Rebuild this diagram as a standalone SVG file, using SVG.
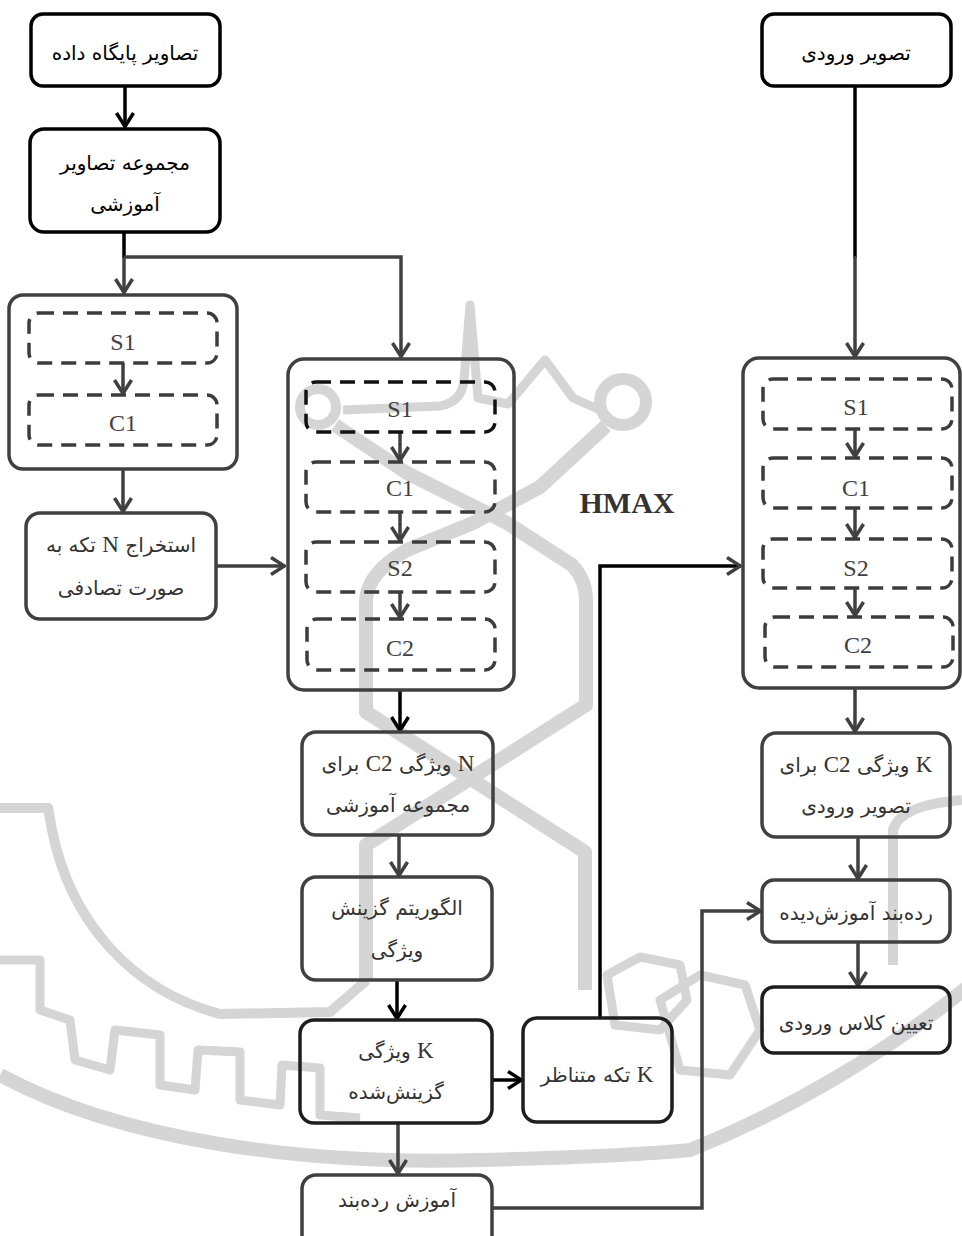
<svg xmlns="http://www.w3.org/2000/svg" width="962" height="1236" viewBox="0 0 962 1236">
<style>
.wm{fill:none;stroke:#d5d5d5;stroke-linejoin:round;stroke-linecap:butt}
.box{fill:none;stroke:#404040;stroke-width:3.5}
.bk{stroke:#000}
.bd{stroke:#1e1e1e}
.dash{fill:none;stroke:#3c3c3c;stroke-width:3.5;stroke-dasharray:15 9}
.conn{fill:none;stroke:#404040;stroke-width:3.5}
.ck{stroke:#000}
.fa{font-family:'DejaVu Sans',sans-serif;font-size:20px;fill:#333;text-anchor:middle;direction:rtl}
.fk{fill:#000}
.la{font-family:'Liberation Serif',serif;font-size:23px}
.lat{font-family:'Liberation Serif',serif;font-size:24px;fill:#404040;text-anchor:middle}
</style>
<defs>
<marker id="ah" viewBox="0 0 16 20" refX="15" refY="10" markerWidth="16" markerHeight="20" orient="auto" markerUnits="userSpaceOnUse">
<path d="M1,1.5 L14.5,10 L1,18.5" fill="none" stroke="#404040" stroke-width="3.5"/>
</marker>
<marker id="ahk" viewBox="0 0 16 20" refX="15" refY="10" markerWidth="16" markerHeight="20" orient="auto" markerUnits="userSpaceOnUse">
<path d="M1,1.5 L14.5,10 L1,18.5" fill="none" stroke="#000" stroke-width="3.5"/>
</marker>
</defs>
<rect width="962" height="1236" fill="#fff"/>

<g id="watermark">
<path class="wm" stroke-width="9" d="M343,410 L440,406 Q462,402 464,380 L470,305 L478,398 L508,404 L545,360 L573,398 L600,410"/>
<circle class="wm" stroke-width="10" cx="318" cy="407" r="18"/>
<circle class="wm" stroke-width="12" cx="623" cy="402" r="23"/>
<path class="wm" stroke-width="14" d="M606,426 L540,487 L473,523 L407,550 Q368,572 366,600 L366,712 L585,852 L585,990"/>
<path class="wm" stroke-width="14" d="M335,425 L407,473 L507,523 L572,565 Q586,580 586,600 L586,705 L366,845 L366,980"/>
<path class="wm" stroke-width="10" d="M0,808 L48,808 L52,830 C70,920 130,990 220,1014 L330,1012 L367,980"/>
<path class="wm" stroke-width="9" d="M0,960 L40,960 L40,1010 L70,1020 L75,1060 L110,1070 L115,1030 L160,1035 L160,1085 L195,1090 L198,1050 L240,1052 L240,1100 L280,1105 L282,1065 L320,1068 L320,1115 L360,1118"/>
<path class="wm" stroke-width="14" d="M0,1075 C120,1140 300,1165 480,1160 C560,1158 640,1155 690,1150 C790,1110 890,1050 970,985"/>
<path class="wm" stroke-width="10" d="M893,965 L893,830 Q900,805 962,800"/>
<path class="wm" stroke-width="9" d="M660,1000 L700,975 L745,985 L760,1030 L730,1075 L680,1070 Z"/>
<path class="wm" stroke-width="9" d="M607,975 L640,957 L680,965 L687,1000 L660,1030 L615,1025 Z"/>
</g>

<g id="connectors">
<line class="conn ck" x1="125" y1="86" x2="125" y2="127" marker-end="url(#ahk)"/>
<line class="conn ck" x1="124" y1="232" x2="124" y2="258"/>
<polyline class="conn" points="124,257 124,293" marker-end="url(#ah)"/>
<polyline class="conn" points="124,257 401,257 401,357" marker-end="url(#ah)"/>
<line class="conn" x1="123" y1="363" x2="123" y2="394" marker-end="url(#ah)"/>
<line class="conn" x1="123" y1="469" x2="123" y2="512" marker-end="url(#ah)"/>
<line class="conn" x1="216" y1="566" x2="285" y2="566" marker-end="url(#ah)"/>
<line class="conn" x1="400" y1="432" x2="400" y2="461" marker-end="url(#ah)"/>
<line class="conn" x1="400" y1="512" x2="400" y2="541" marker-end="url(#ah)"/>
<line class="conn" x1="400" y1="592" x2="400" y2="618" marker-end="url(#ah)"/>
<line class="conn ck" x1="400" y1="690" x2="400" y2="731" marker-end="url(#ahk)"/>
<line class="conn" x1="399" y1="835" x2="399" y2="876" marker-end="url(#ah)"/>
<line class="conn ck" x1="397" y1="980" x2="397" y2="1019" marker-end="url(#ahk)"/>
<line class="conn ck" x1="492" y1="1080" x2="522" y2="1080" marker-end="url(#ahk)"/>
<polyline class="conn ck" points="600,1018 600,566 741,566" marker-end="url(#ah)"/>
<line class="conn" x1="398" y1="1123" x2="398" y2="1174" marker-end="url(#ah)"/>
<polyline class="conn" points="492,1208 702,1208 702,911 761,911" marker-end="url(#ah)"/>
<line class="conn ck" x1="855" y1="86" x2="855" y2="258"/>
<line class="conn" x1="855" y1="256" x2="855" y2="357" marker-end="url(#ah)"/>
<line class="conn" x1="855" y1="429" x2="855" y2="457" marker-end="url(#ah)"/>
<line class="conn" x1="855" y1="508" x2="855" y2="538" marker-end="url(#ah)"/>
<line class="conn" x1="855" y1="588" x2="855" y2="616" marker-end="url(#ah)"/>
<line class="conn" x1="855" y1="688" x2="855" y2="732" marker-end="url(#ah)"/>
<line class="conn" x1="858" y1="837" x2="858" y2="879" marker-end="url(#ah)"/>
<line class="conn" x1="858" y1="942" x2="858" y2="986" marker-end="url(#ah)"/>
</g>

<g id="n-db-images">
<rect class="box bk" x="31" y="14" width="189" height="72" rx="12"/>
<text class="fa fk" x="125" y="60">تصاویر پایگاه داده</text>
</g>
<g id="n-train-set">
<rect class="box bk" x="30" y="129" width="190" height="103" rx="14"/>
<text class="fa fk" x="125" y="170">مجموعه تصاویر</text>
<text class="fa fk" x="125" y="211">آموزشی</text>
</g>
<g id="n-s1c1-left">
<rect class="box" x="9" y="295" width="228" height="174" rx="14"/>
<rect class="dash" x="29" y="313" width="188" height="50" rx="10"/>
<text class="lat" x="123" y="350">S1</text>
<rect class="dash" x="29" y="395" width="188" height="50" rx="10"/>
<text class="lat" x="123" y="431">C1</text>
</g>
<g id="n-extract">
<rect class="box" x="26" y="513" width="190" height="106" rx="14"/>
<text class="fa" x="121" y="552">استخراج <tspan class="la">N</tspan> تکه به</text>
<text class="fa" x="121" y="595">صورت تصادفی</text>
</g>
<g id="n-hmax-mid">
<rect class="box" x="288" y="359" width="226" height="331" rx="16"/>
<rect class="dash" x="306" y="382" width="189" height="50" rx="10" style="stroke:#111"/>
<text class="lat" x="400" y="417">S1</text>
<rect class="dash" x="306" y="462" width="189" height="50" rx="10"/>
<text class="lat" x="400" y="496">C1</text>
<rect class="dash" x="306" y="542" width="189" height="50" rx="10"/>
<text class="lat" x="400" y="576">S2</text>
<rect class="dash" x="307" y="619" width="188" height="51" rx="10"/>
<text class="lat" x="400" y="656">C2</text>
</g>
<g id="n-hmax-label">
<text x="627" y="513" style="font-family:'Liberation Serif',serif;font-size:30px;font-weight:bold;fill:#333;text-anchor:middle">HMAX</text>
</g>
<g id="n-c2-train">
<rect class="box" x="302" y="732" width="191" height="103" rx="14"/>
<text class="fa" x="398" y="771"><tspan class="la">N</tspan> ویژگی <tspan class="la">C2</tspan> برای</text>
<text class="fa" x="398" y="812">مجموعه آموزشی</text>
</g>
<g id="n-select-alg">
<rect class="box" x="302" y="877" width="190" height="103" rx="14"/>
<text class="fa" x="397" y="915">الگوریتم گزینش</text>
<text class="fa" x="397" y="957">ویژگی</text>
</g>
<g id="n-k-features">
<rect class="box bd" x="300" y="1020" width="192" height="103" rx="14"/>
<text class="fa" x="396" y="1058"><tspan class="la">K</tspan> ویژگی</text>
<text class="fa" x="396" y="1099">گزینش‌شده</text>
</g>
<g id="n-k-patches">
<rect class="box bd" x="523" y="1018" width="149" height="104" rx="14"/>
<text class="fa" x="597" y="1082"><tspan class="la">K</tspan> تکه متناظر</text>
</g>
<g id="n-train-classifier">
<rect class="box" x="302" y="1175" width="190" height="80" rx="14"/>
<text class="fa" x="397" y="1207">آموزش رده‌بند</text>
</g>
<g id="n-input-image">
<rect class="box bk" x="762" y="14" width="189" height="72" rx="12"/>
<text class="fa fk" x="856" y="60">تصویر ورودی</text>
</g>
<g id="n-hmax-right">
<rect class="box" x="743" y="358" width="217" height="330" rx="16"/>
<rect class="dash" x="763" y="379" width="189" height="50" rx="10"/>
<text class="lat" x="856" y="415">S1</text>
<rect class="dash" x="763" y="458" width="189" height="50" rx="10"/>
<text class="lat" x="856" y="496">C1</text>
<rect class="dash" x="763" y="539" width="189" height="49" rx="10"/>
<text class="lat" x="856" y="576">S2</text>
<rect class="dash" x="765" y="617" width="188" height="50" rx="10"/>
<text class="lat" x="858" y="653">C2</text>
</g>
<g id="n-c2-input">
<rect class="box" x="762" y="733" width="188" height="104" rx="14"/>
<text class="fa" x="856" y="772"><tspan class="la">K</tspan> ویژگی <tspan class="la">C2</tspan> برای</text>
<text class="fa" x="856" y="813">تصویر ورودی</text>
</g>
<g id="n-trained-classifier">
<rect class="box" x="762" y="880" width="188" height="62" rx="12"/>
<text class="fa" x="856" y="920">رده‌بند آموزش‌دیده</text>
</g>
<g id="n-class-assign">
<rect class="box bd" x="762" y="987" width="188" height="66" rx="12"/>
<text class="fa" x="856" y="1030">تعیین کلاس ورودی</text>
</g>
</svg>
